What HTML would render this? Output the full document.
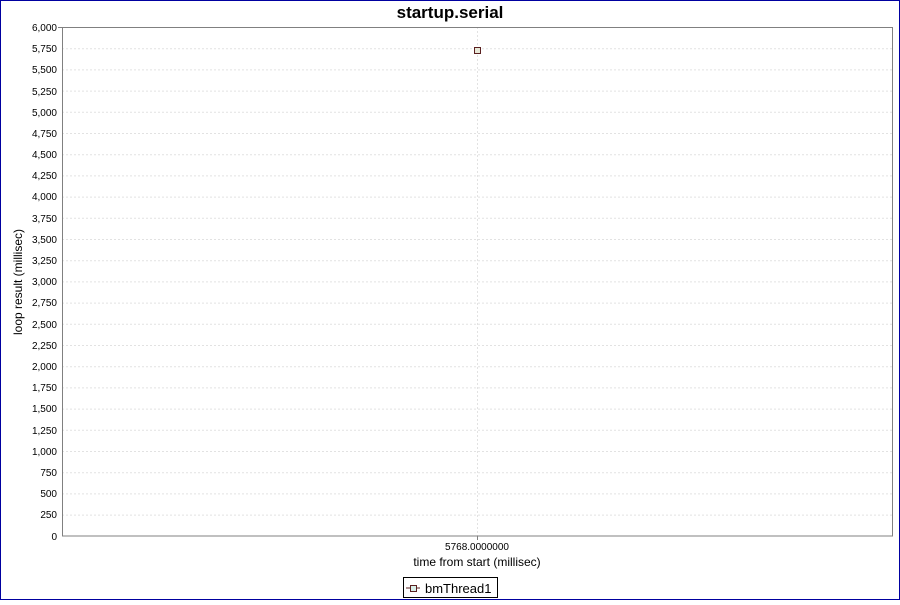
<!DOCTYPE html>
<html><head><style>
body{margin:0;background:#fff}
svg text{font-family:"Liberation Sans","DejaVu Sans",sans-serif}
</style></head><body>
<svg width="900" height="600" xmlns="http://www.w3.org/2000/svg">
<rect x="0.5" y="0.5" width="899" height="599" fill="#fff" stroke="#0000a0" stroke-width="1"/>
<text x="450" y="18" text-anchor="middle" font-size="17" font-weight="bold">startup.serial</text>
<g stroke="#e2e2e2" stroke-dasharray="2,2">
<line x1="62" x2="892" y1="27.5" y2="27.5"/><line x1="62" x2="892" y1="48.7" y2="48.7"/><line x1="62" x2="892" y1="69.9" y2="69.9"/><line x1="62" x2="892" y1="91.1" y2="91.1"/><line x1="62" x2="892" y1="112.3" y2="112.3"/><line x1="62" x2="892" y1="133.5" y2="133.5"/><line x1="62" x2="892" y1="154.7" y2="154.7"/><line x1="62" x2="892" y1="175.9" y2="175.9"/><line x1="62" x2="892" y1="197.1" y2="197.1"/><line x1="62" x2="892" y1="218.3" y2="218.3"/><line x1="62" x2="892" y1="239.5" y2="239.5"/><line x1="62" x2="892" y1="260.7" y2="260.7"/><line x1="62" x2="892" y1="281.9" y2="281.9"/><line x1="62" x2="892" y1="303.1" y2="303.1"/><line x1="62" x2="892" y1="324.3" y2="324.3"/><line x1="62" x2="892" y1="345.5" y2="345.5"/><line x1="62" x2="892" y1="366.7" y2="366.7"/><line x1="62" x2="892" y1="387.9" y2="387.9"/><line x1="62" x2="892" y1="409.1" y2="409.1"/><line x1="62" x2="892" y1="430.3" y2="430.3"/><line x1="62" x2="892" y1="451.5" y2="451.5"/><line x1="62" x2="892" y1="472.7" y2="472.7"/><line x1="62" x2="892" y1="493.9" y2="493.9"/><line x1="62" x2="892" y1="515.1" y2="515.1"/>
<line x1="477.5" x2="477.5" y1="27" y2="536"/>
</g>
<rect x="62.5" y="27.5" width="830" height="508.5" fill="none" stroke="#808080"/>
<g font-size="10" text-anchor="end" fill="#000">
<text x="57" y="31">6,000</text><text x="57" y="52">5,750</text><text x="57" y="73">5,500</text><text x="57" y="95">5,250</text><text x="57" y="116">5,000</text><text x="57" y="137">4,750</text><text x="57" y="158">4,500</text><text x="57" y="179">4,250</text><text x="57" y="200">4,000</text><text x="57" y="222">3,750</text><text x="57" y="243">3,500</text><text x="57" y="264">3,250</text><text x="57" y="285">3,000</text><text x="57" y="306">2,750</text><text x="57" y="328">2,500</text><text x="57" y="349">2,250</text><text x="57" y="370">2,000</text><text x="57" y="391">1,750</text><text x="57" y="412">1,500</text><text x="57" y="434">1,250</text><text x="57" y="455">1,000</text><text x="57" y="476">750</text><text x="57" y="497">500</text><text x="57" y="518">250</text><text x="57" y="540">0</text>
</g>
<g stroke="#808080"><line x1="58" x2="62" y1="27.5" y2="27.5"/><line x1="477.5" x2="477.5" y1="536" y2="540"/></g>
<text x="477" y="550" font-size="10" text-anchor="middle">5768.0000000</text>
<text x="477" y="566" font-size="12" text-anchor="middle">time from start (millisec)</text>
<text transform="translate(22,282) rotate(-90)" font-size="12" text-anchor="middle">loop result (millisec)</text>
<rect x="474.5" y="47.5" width="6" height="6" fill="#e8e8d8" stroke="#5a2020"/>
<rect x="403.5" y="577.5" width="94" height="20" fill="#fff" stroke="#000"/>
<line x1="406" x2="420" y1="588" y2="588" stroke="#5a2020"/>
<rect x="410.5" y="585.5" width="6" height="6" fill="#d8eee8" stroke="#5a2020"/>
<text x="425" y="593" font-size="13">bmThread1</text>
</svg>
</body></html>
